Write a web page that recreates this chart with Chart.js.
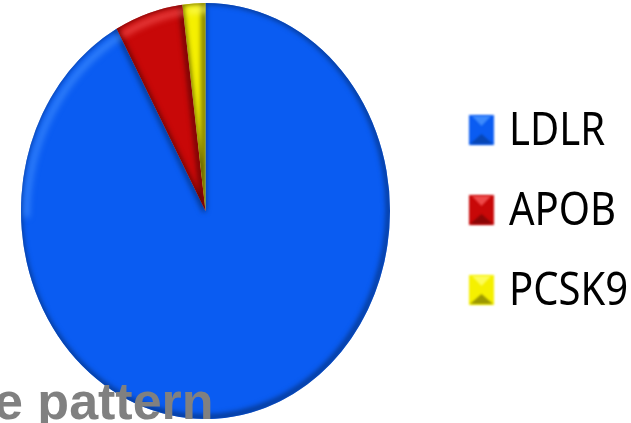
<!DOCTYPE html>
<html>
<head>
<meta charset="utf-8">
<script src="https://cdn.jsdelivr.net/npm/chart.js@4"></script>
<style>
  html, body { margin: 0; padding: 0; background: #fff; overflow: hidden; }
  #wrap { position: relative; width: 631px; height: 423px; overflow: hidden; }
  #caption {
    position: absolute; left: -6px; top: 371px; white-space: pre;
    font: bold 52px "Liberation Sans", sans-serif; color: #808080;
  }
  #legend { position: absolute; left: 467px; top: 90px; }
  .row { display: flex; align-items: center; height: 80px; }
  .row canvas { display: block; }
  .row span {
    margin-left: 13px; color: #000; white-space: pre;
    font: 46px "Noto Sans", sans-serif; line-height: 80px;
    transform: translateY(-3px) scaleX(0.87); transform-origin: left center;
  }
</style>
</head>
<body>
<div id="wrap">
  <canvas id="pie" width="631" height="423"></canvas>
  <div id="legend"></div>
  <div id="caption">e pattern</div>
</div>
<script>
const genes = ["LDLR", "APOB", "PCSK9"]
const shares = [92, 6, 2]
const fills = ["#0a5cf2", "#c80808", "#f5f000"]
const darks = ["#063a94", "#6a0505", "#6b6800"]
const lights = ["#4a96ff", "#f85a5a", "#ffff70"]

// legend swatch with a bevel, like the pie itself
const swatch = i => {
  const c = document.createElement("canvas")
  c.width = 29
  c.height = 34
  const g = c.getContext("2d")
  g.filter = "blur(1px)"
  g.fillStyle = fills[i]
  g.fillRect(2, 2, 25, 30)
  g.globalAlpha = 0.8
  g.fillStyle = lights[i]
  g.beginPath(); g.moveTo(5, 3); g.lineTo(24, 3); g.lineTo(14.5, 13); g.fill()
  g.globalAlpha = 0.65
  g.fillStyle = darks[i]
  g.beginPath(); g.moveTo(3, 31); g.lineTo(26, 31); g.lineTo(14.5, 21); g.fill()
  return c
}

genes.forEach((g, i) => {
  const row = document.createElement("div")
  row.className = "row"
  const label = document.createElement("span")
  label.textContent = g
  row.append(swatch(i), label)
  document.getElementById("legend").append(row)
})

// the reference pie is taller than it is wide, so stretch it while drawing
const stretchPie = {
  id: "stretchPie",
  beforeDatasetsDraw(chart) {
    const arc = chart.getDatasetMeta(0).data[0]
    const ctx = chart.ctx
    ctx.save()
    ctx.translate(205.5, 211)
    ctx.scale(1, 208 / 184.5)
    ctx.translate(-arc.x, -arc.y)
  },
  afterDatasetsDraw(chart) {
    const ctx = chart.ctx
    chart.getDatasetMeta(0).data.forEach((arc, i) => {
      const { x, y, startAngle, endAngle, outerRadius } = arc.getProps(["x", "y", "startAngle", "endAngle", "outerRadius"], true)
      const path = () => {
        ctx.beginPath()
        ctx.moveTo(x, y)
        ctx.arc(x, y, outerRadius, startAngle, endAngle)
        ctx.closePath()
      }
      ctx.save()
      path()
      ctx.clip()
      ctx.lineJoin = "round"
      // dark inner edge down and to the right
      ctx.filter = "blur(2.5px)"
      ctx.strokeStyle = darks[i]
      ctx.lineWidth = 5
      ctx.translate(-1.5, -1.5)
      path()
      ctx.stroke()
      // light inner edge up and to the left
      ctx.translate(7, 7)
      ctx.filter = "blur(3px)"
      ctx.globalAlpha = 0.75
      ctx.strokeStyle = lights[i]
      ctx.lineWidth = 5
      ctx.beginPath()
      ctx.arc(x, y, outerRadius, Math.max(startAngle, Math.PI), Math.min(endAngle, Math.PI * 1.5))
      ctx.stroke()
      ctx.restore()
    })
    ctx.restore()
  },
}

new Chart("pie", {
  type: "pie",
  plugins: [stretchPie],
  data: {
    labels: genes,
    datasets: [{ data: shares, backgroundColor: fills, borderWidth: 0 }],
  },
  options: {
    responsive: false,
    animation: false,
    layout: { padding: { top: 27, bottom: 27, left: 0, right: 0 } },
    plugins: {
      tooltip: { enabled: false },
      legend: { display: false },
    },
  },
})
</script>
</body>
</html>
